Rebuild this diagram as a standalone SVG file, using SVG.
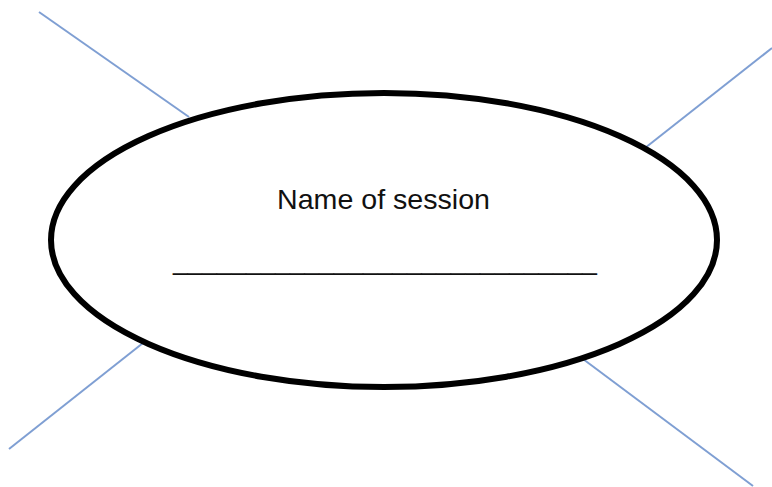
<svg xmlns="http://www.w3.org/2000/svg" width="772" height="487" viewBox="0 0 772 487">
<style>
.conn line{stroke:#7f9fd3;stroke-width:2;}
.label{font-family:"Liberation Sans",Arial,sans-serif;fill:#111111;}
</style>
<rect width="772" height="487" fill="#ffffff"/>
<g id="connectors" class="conn">
<line x1="39" y1="12" x2="189" y2="117"/>
<line x1="772" y1="48" x2="645" y2="148"/>
<line x1="143" y1="343" x2="9" y2="449"/>
<line x1="583" y1="359" x2="753" y2="486"/>
</g>
<g id="session">
<ellipse cx="384" cy="240" rx="333" ry="147" fill="#ffffff" stroke="#000000" stroke-width="6"/>
<text class="label" x="277" y="209" font-size="28" textLength="213" lengthAdjust="spacingAndGlyphs">Name of session</text>
<text class="label" x="173" y="269.5" font-size="26" textLength="424" lengthAdjust="spacingAndGlyphs">_____________________________</text>
</g>
</svg>
